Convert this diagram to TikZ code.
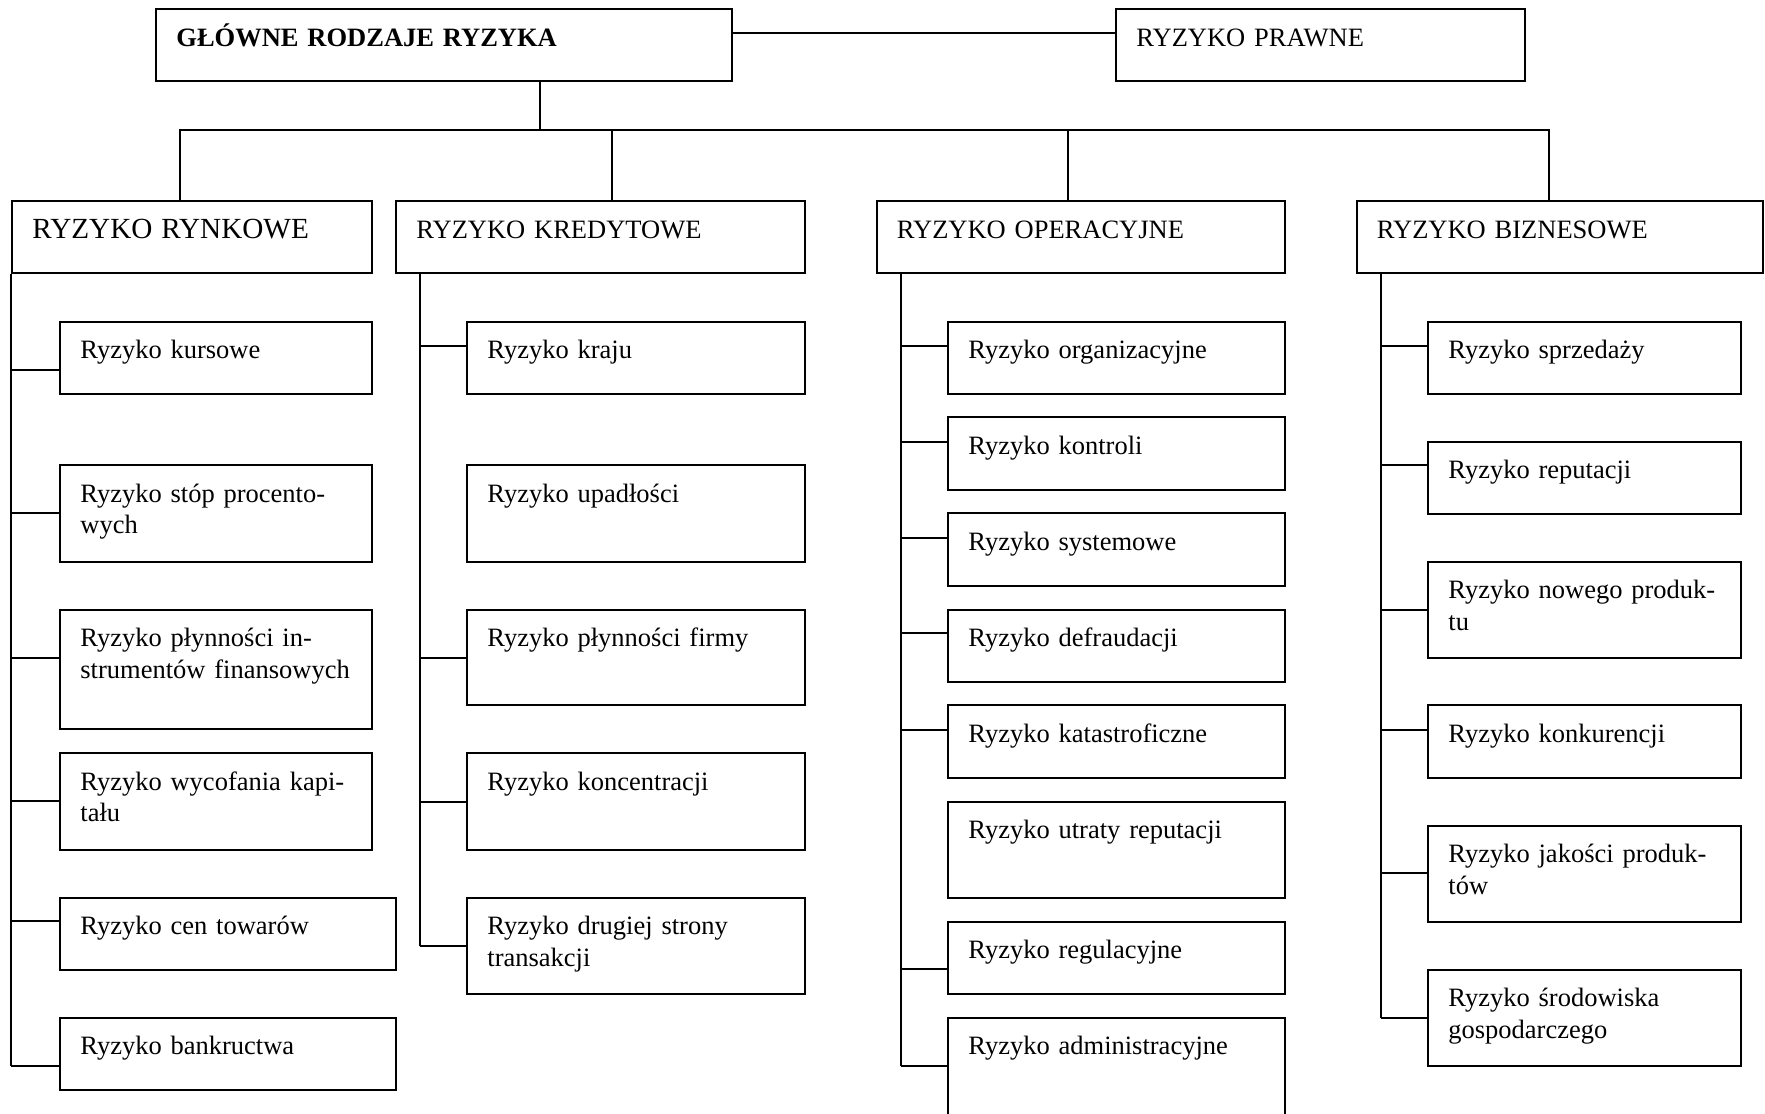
\documentclass[tikz,border=0pt]{standalone}
\usepackage{fontspec}
\setmainfont{Liberation Serif}
\usetikzlibrary{fit}
\begin{document}
\begin{tikzpicture}[x=0.5pt,y=-0.5pt,
  bx/.style={draw, inner sep=0pt, line width=1pt},
  tx/.style={anchor=base west, inner sep=0pt, align=left, text width=300pt,
    font=\fontsize{13.25}{15.7}\selectfont},
  ln/.style={line width=1pt}]
\useasboundingbox (0,0) rectangle (1765,1113);
\clip (0,0) rectangle (1765,1113);
\newcommand\RBox[6]{%
  \node[bx, fit={(#2,#3) (#4,#5)}] (#1) {};
  \node[tx] (#1-t) at ([shift={(21,38)}]#1.north west) {#6};}
\newcommand\Tick[3]{\draw[ln] (#1 |- 0,#3) -- (#2.west |- 0,#3);}

% top level
\RBox{main}{156}{9.5}{732}{81}{\textbf{GŁÓWNE RODZAJE RYZYKA}}
\RBox{prawne}{1116}{9.5}{1525}{81}{RYZYKO PRAWNE}
\RBox{rynk}{12}{201}{372}{273}{{\fontsize{14.6}{17}\selectfont RYZYKO RYNKOWE}}
\RBox{kred}{396}{201}{805}{273}{RYZYKO KREDYTOWE}
\RBox{oper}{876.5}{201}{1284.5}{273}{RYZYKO OPERACYJNE}
\RBox{bizn}{1356.5}{201}{1763}{273}{RYZYKO BIZNESOWE}

\draw[ln] (main.east |- 0,33) -- (prawne.west |- 0,33);
\coordinate (bus) at (540,129.7);
\draw[ln] (main.south -| bus) -- (bus);
\draw[ln] (rynk.north -| 180,0) |- (bus) -| (bizn.north -| 1549,0);
\draw[ln] (bus -| 612,0) -- (kred.north -| 612,0);
\draw[ln] (bus -| 1068,0) -- (oper.north -| 1068,0);

% rynkowe
\RBox{r1}{60}{321.7}{372}{393.7}{Ryzyko kursowe}
\RBox{r2}{60}{465}{372}{561.7}{Ryzyko stóp procento-\\wych}
\RBox{r3}{60}{609.7}{372}{729.3}{Ryzyko płynności in-\\strumentów finansowych}
\RBox{r4}{60}{753.3}{372}{850}{Ryzyko wycofania kapi-\\tału}
\RBox{r5}{60}{897.7}{396}{970}{Ryzyko cen towarów}
\RBox{r6}{60}{1017.7}{396}{1089.7}{Ryzyko bankructwa}
\coordinate (rsp) at (rynk.south west);
\draw[ln] (rsp) -- (rsp |- 0,1065.7);
\Tick{rsp}{r1}{369.7}
\Tick{rsp}{r2}{513.3}
\Tick{rsp}{r3}{657.7}
\Tick{rsp}{r4}{801}
\Tick{rsp}{r5}{921.3}
\Tick{rsp}{r6}{1065.7}

% kredytowe
\RBox{k1}{467}{321.7}{804.5}{393.7}{Ryzyko kraju}
\RBox{k2}{467}{465}{804.5}{561.7}{Ryzyko upadłości}
\RBox{k3}{467}{609.7}{804.5}{705}{Ryzyko płynności firmy}
\RBox{k4}{467}{753.3}{804.5}{850}{Ryzyko koncentracji}
\RBox{k5}{467}{897.7}{804.5}{994}{Ryzyko drugiej strony\\transakcji}
\coordinate (ksp) at (kred.south -| 420,0);
\draw[ln] (ksp) -- (ksp |- 0,945.7);
\Tick{ksp}{k1}{345.7}
\Tick{ksp}{k3}{657.7}
\Tick{ksp}{k4}{801.5}
\Tick{ksp}{k5}{945.7}

% operacyjne
\RBox{o1}{948}{321.7}{1284.5}{393.7}{Ryzyko organizacyjne}
\RBox{o2}{948}{417.3}{1284.5}{490}{Ryzyko kontroli}
\RBox{o3}{948}{513.3}{1284.5}{585.7}{Ryzyko systemowe}
\RBox{o4}{948}{609.7}{1284.5}{681.7}{Ryzyko defraudacji}
\RBox{o5}{948}{705}{1284.5}{778}{Ryzyko katastroficzne}
\RBox{o6}{948}{801.7}{1284.5}{898}{Ryzyko utraty reputacji}
\RBox{o7}{948}{921.7}{1284.5}{994}{Ryzyko regulacyjne}
\RBox{o8}{948}{1017.7}{1284.5}{1135}{Ryzyko administracyjne}
\coordinate (osp) at (oper.south -| 901,0);
\draw[ln] (osp) -- (osp |- 0,1065.7);
\Tick{osp}{o1}{345.7}
\Tick{osp}{o2}{441.7}
\Tick{osp}{o3}{537.7}
\Tick{osp}{o4}{633.3}
\Tick{osp}{o5}{729.7}
\Tick{osp}{o7}{969.3}
\Tick{osp}{o8}{1065.7}

% biznesowe
\RBox{b1}{1428}{321.7}{1741}{393.7}{Ryzyko sprzedaży}
\RBox{b2}{1428}{441.7}{1741}{513.7}{Ryzyko reputacji}
\RBox{b3}{1428}{561.7}{1741}{657.7}{Ryzyko nowego produk-\\tu}
\RBox{b4}{1428}{705}{1741}{778}{Ryzyko konkurencji}
\RBox{b5}{1428}{825.7}{1741}{921.7}{Ryzyko jakości produk-\\tów}
\RBox{b6}{1428}{969.7}{1741}{1065.7}{Ryzyko środowiska\\gospodarczego}
\coordinate (bsp) at (bizn.south -| 1381,0);
\draw[ln] (bsp) -- (bsp |- 0,1017.7);
\Tick{bsp}{b1}{345.7}
\Tick{bsp}{b2}{465}
\Tick{bsp}{b3}{609.7}
\Tick{bsp}{b4}{729.7}
\Tick{bsp}{b5}{873.3}
\Tick{bsp}{b6}{1017.7}
\end{tikzpicture}
\end{document}
